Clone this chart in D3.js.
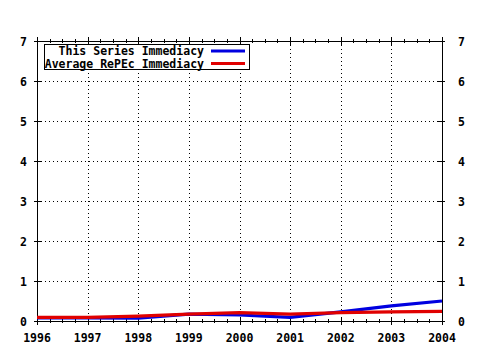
<!DOCTYPE html>
<html>
<head>
<meta charset="utf-8">
<script src="https://cdn.jsdelivr.net/npm/d3@7"></script>
<style>
  body { margin: 0; background: #fff; }
  svg text { font-family: "DejaVu Sans Mono", monospace; font-weight: bold; font-size: 11.5px; fill: #000; }
</style>
</head>
<body>
<svg id="chart" width="480" height="350"></svg>
<script>
// chart data
var years = [1996, 1997, 1998, 1999, 2000, 2001, 2002, 2003, 2004];
var seriesImmediacy = [0.08, 0.08, 0.07, 0.17, 0.15, 0.09, 0.23, 0.38, 0.5];
var repecImmediacy = [0.09, 0.09, 0.12, 0.17, 0.21, 0.17, 0.21, 0.23, 0.24];
var yTicks = [0, 1, 2, 3, 4, 5, 6, 7];
var legendLabels = ["This Series Immediacy", "Average RePEc Immediacy"];
var colors = ["#0000e0", "#e00000"];

var svg = d3.select("#chart");
var plotL = 37, plotR = 442, plotT = 41, plotB = 321;

var x = d3.scaleLinear().domain([1996, 2004]).range([plotL, plotR]);
var y = d3.scaleLinear().domain([0, 7]).range([plotB, plotT]);

// dotted grid
var grid = svg.append("g").attr("class", "grid")
    .attr("stroke", "#000").attr("stroke-width", 1).attr("stroke-dasharray", "1,3");
grid.selectAll(".vgrid")
  .data(years.slice(1, -1))
  .enter().append("line")
    .attr("x1", d => Math.round(x(d)) + 0.5).attr("x2", d => Math.round(x(d)) + 0.5)
    .attr("y1", plotT).attr("y2", plotB);
grid.selectAll(".hgrid")
  .data(yTicks.slice(1, -1))
  .enter().append("line")
    .attr("x1", plotL).attr("x2", plotR)
    .attr("y1", d => Math.round(y(d)) + 0.5).attr("y2", d => Math.round(y(d)) + 0.5);

// frame
svg.append("rect")
    .attr("x", plotL + 0.5).attr("y", plotT + 0.5)
    .attr("width", plotR - plotL).attr("height", plotB - plotT)
    .attr("fill", "none").attr("stroke", "#000");

// ticks (major and quarter-year minor), mirrored on all sides
var ticks = svg.append("g").attr("stroke", "#000").attr("stroke-width", 1);
var minor = d3.range(1996, 2004.01, 0.25);
minor.forEach(function (d) {
  var major = Number.isInteger(d);
  var len = major ? 4 : 2;
  var px = Math.round(x(d)) + 0.5;
  ticks.append("line").attr("x1", px).attr("x2", px).attr("y1", plotB - len).attr("y2", plotB + len);
  ticks.append("line").attr("x1", px).attr("x2", px).attr("y1", plotT - len).attr("y2", plotT + len);
});
yTicks.forEach(function (d) {
  var py = Math.round(y(d)) + 0.5;
  ticks.append("line").attr("x1", plotL - 3).attr("x2", plotL + 4).attr("y1", py).attr("y2", py);
  ticks.append("line").attr("x1", plotR - 4).attr("x2", plotR + 3).attr("y1", py).attr("y2", py);
});

// tick labels
svg.append("g").selectAll("text")
  .data(years)
  .enter().append("text")
    .attr("x", d => x(d)).attr("y", 342)
    .attr("text-anchor", "middle")
    .text(d => d);
svg.append("g").selectAll("text")
  .data(yTicks)
  .enter().append("text")
    .attr("x", 27).attr("y", d => y(d) + 4.5)
    .attr("text-anchor", "end")
    .text(d => d);
svg.append("g").selectAll("text")
  .data(yTicks)
  .enter().append("text")
    .attr("x", 458).attr("y", d => y(d) + 4.5)
    .attr("text-anchor", "start")
    .text(d => d);

// lines
var line = d3.line()
    .x((d, i) => x(years[i]))
    .y(d => y(d));
[seriesImmediacy, repecImmediacy].forEach(function (s, i) {
  svg.append("path")
      .datum(s)
      .attr("d", line)
      .attr("fill", "none")
      .attr("stroke", colors[i])
      .attr("stroke-width", 3.2);
});

// legend
var legend = svg.append("g").attr("class", "legend");
legend.append("rect")
    .attr("x", 44.5).attr("y", 44.5).attr("width", 205).attr("height", 25)
    .attr("fill", "#fff").attr("stroke", "#000");
legendLabels.forEach(function (label, i) {
  var ly = 51 + i * 12.5;
  legend.append("text")
      .attr("x", 204).attr("y", ly + 4)
      .attr("text-anchor", "end")
      .text(label);
  legend.append("line")
      .attr("x1", 211).attr("x2", 245)
      .attr("y1", ly).attr("y2", ly)
      .attr("stroke", colors[i]).attr("stroke-width", 3.2);
});
</script>
</body>
</html>
